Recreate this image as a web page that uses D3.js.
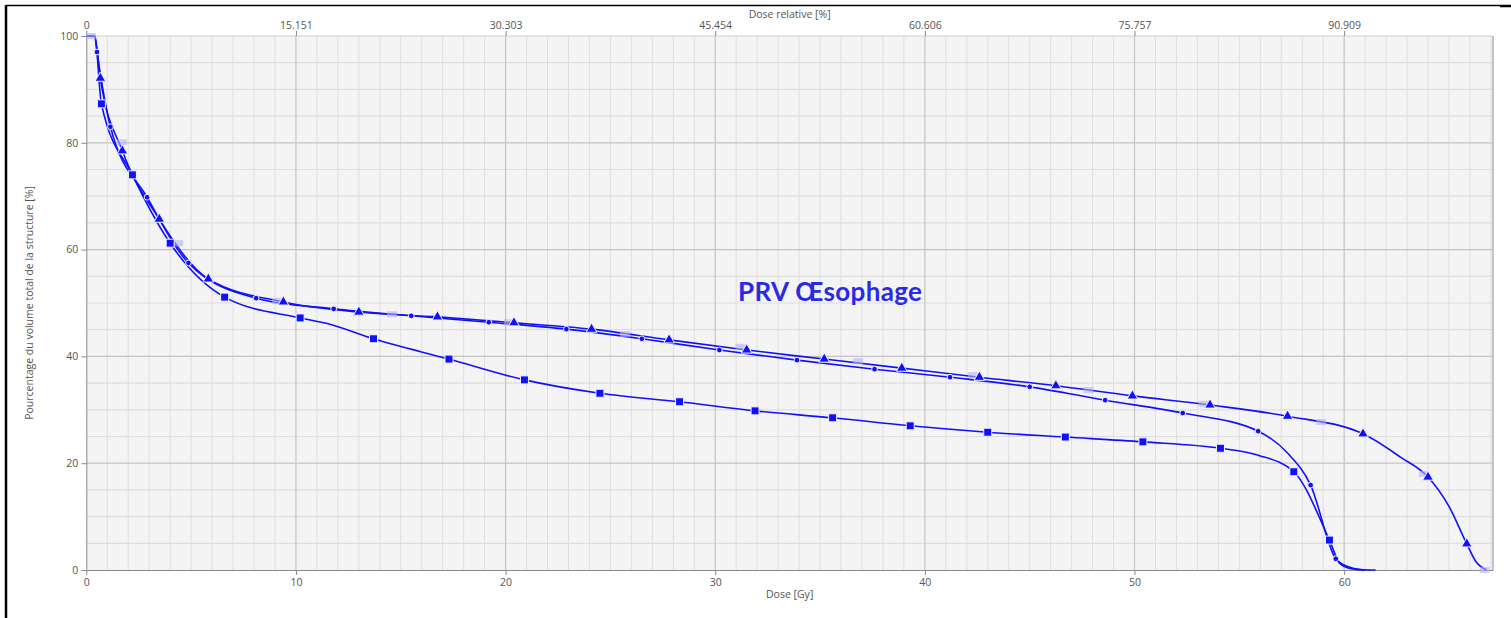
<!DOCTYPE html>
<html>
<head>
<meta charset="utf-8">
<script src="https://cdn.jsdelivr.net/npm/d3@7"></script>
<style>
  body { margin: 0; background: #fff; }
  svg { display: block; }
  .axis text { font-family: "Open Sans", sans-serif; font-size: 10.5px; fill: #555; }
  .axis path, .axis line { stroke: #8a8a8a; }
  .axis-title { font-family: "Open Sans", sans-serif; font-size: 10.5px; fill: #555; }
</style>
</head>
<body>
<svg id="chart"></svg>
<script>
// Dose axis ticks [Gy] and relative dose ticks [%]
const doseTicks = [0, 10, 20, 30, 40, 50, 60];
const relTickValues = [0, 15.1515, 30.303, 45.4545, 60.606, 75.7575, 90.909];
const relTickLabels = ['0', '15.151', '30.303', '45.454', '60.606', '75.757', '90.909'];
const volumeTicks = [0, 20, 40, 60, 80, 100];

// Series with small round markers [dose Gy, volume %]
const dotMarkers = [[0.51, 97], [1.15, 83], [2.9, 69.8], [4.87, 57.5], [8.1, 50.9], [11.8, 48.9],
  [15.5, 47.6], [19.2, 46.4], [22.9, 45.1], [26.5, 43.3], [30.2, 41.2], [33.9, 39.3], [37.6, 37.6],
  [41.2, 36.1], [45.0, 34.3], [48.6, 31.8], [52.3, 29.4], [55.9, 26.0], [58.4, 15.9], [59.6, 2.1]];
const dotShape = [[0, 100], [0.4, 100], [57.3, 21.9], [60.2, 0.6], [60.8, 0.1], [61.5, 0]];

// Series with triangle markers
const triMarkers = [[0.67, 92.1], [1.72, 78.5], [3.48, 65.7], [5.82, 54.5], [9.4, 50.2], [13.0, 48.3],
  [16.75, 47.4], [20.4, 46.3], [24.1, 45.1], [27.8, 43.1], [31.5, 41.2], [35.2, 39.5], [38.9, 37.8],
  [42.6, 36.1], [46.25, 34.5], [49.9, 32.6], [53.6, 30.9], [57.3, 28.8], [60.9, 25.5], [64.0, 17.4],
  [65.85, 4.9]];
const triShape = [[0, 100], [0.4, 100], [62.7, 21.1], [65.0, 11.9], [66.3, 1.5], [66.8, 0]];

// Series with square markers
const sqMarkers = [[0.72, 87.3], [2.2, 74.0], [4.0, 61.2], [6.6, 51.1], [10.2, 47.2], [13.7, 43.3],
  [17.3, 39.5], [20.9, 35.6], [24.5, 33.1], [28.3, 31.5], [31.9, 29.8], [35.6, 28.5], [39.3, 27.0],
  [43.0, 25.8], [46.7, 24.9], [50.4, 24.0], [54.1, 22.8], [57.6, 18.4], [59.3, 5.6]];
const sqShape = [[0, 100], [0.4, 100], [11.45, 46.2], [55.9, 21.5], [59.8, 1.2], [60.4, 0.2], [61.0, 0]];

// Faint (pale) markers sitting on the triangle curve
const ghostMarkers = [[0.22, 100], [1.7, 80.1], [4.38, 61.2], [9.1, 50.4], [14.58, 47.9], [20.17, 46.4],
  [25.7, 44.2], [31.2, 41.8], [36.8, 39.1], [42.3, 36.5], [47.8, 33.7], [53.3, 31.1], [58.9, 27.7],
  [63.8, 18.0], [66.7, 0]];

const structureLabel = 'PRV Œsophage';

const W = 1511, H = 618;
const plot = {left: 86.3, right: 1493, top: 36, bottom: 570};
const maxDose = 67.1, refDose = 66;
const blue = '#1010ff';

const svg = d3.select('#chart').attr('width', W).attr('height', H);

// Outer frame fragments
svg.append('line').attr('x1', 6).attr('x2', 1500).attr('y1', 5.5).attr('y2', 5.5)
  .attr('stroke', '#000').attr('stroke-width', 1.5);
svg.append('line').attr('x1', 1500).attr('x2', 1511).attr('y1', 6).attr('y2', 6)
  .attr('stroke', '#000').attr('stroke-width', 2.5);
svg.append('line').attr('x1', 6).attr('x2', 6).attr('y1', 5).attr('y2', H)
  .attr('stroke', '#000').attr('stroke-width', 2.5);

// Scales
const x = d3.scaleLinear().domain([0, maxDose]).range([plot.left, plot.right]);
const xRel = d3.scaleLinear().domain([0, maxDose / refDose * 100]).range([plot.left, plot.right]);
const y = d3.scaleLinear().domain([0, 100]).range([plot.bottom, plot.top]);

// Plot background
svg.append('rect')
  .attr('x', plot.left).attr('y', plot.top)
  .attr('width', plot.right - plot.left).attr('height', plot.bottom - plot.top)
  .attr('fill', '#f4f4f4');

// Grid
const grid = svg.append('g');
grid.selectAll('.vminor').data(d3.range(1, 68).filter(d => d % 10 !== 0))
  .join('line')
  .attr('x1', d => x(d)).attr('x2', d => x(d))
  .attr('y1', plot.top).attr('y2', plot.bottom)
  .attr('stroke', '#dedede').attr('stroke-width', 1);
grid.selectAll('.hminor').data(d3.range(5, 100, 5).filter(d => d % 20 !== 0))
  .join('line')
  .attr('x1', plot.left).attr('x2', plot.right)
  .attr('y1', d => y(d)).attr('y2', d => y(d))
  .attr('stroke', '#dedede').attr('stroke-width', 1.2);
grid.selectAll('.vmajor').data(doseTicks.slice(1))
  .join('line')
  .attr('x1', d => x(d)).attr('x2', d => x(d))
  .attr('y1', plot.top).attr('y2', plot.bottom)
  .attr('stroke', '#c4c4c4').attr('stroke-width', 1.2);
grid.selectAll('.hmajor').data(volumeTicks.slice(1, -1))
  .join('line')
  .attr('x1', plot.left).attr('x2', plot.right)
  .attr('y1', d => y(d)).attr('y2', d => y(d))
  .attr('stroke', '#c4c4c4').attr('stroke-width', 1.2);

// Top and right borders
svg.append('line').attr('x1', plot.left).attr('x2', plot.right).attr('y1', plot.top).attr('y2', plot.top)
  .attr('stroke', '#cfcfcf').attr('stroke-width', 1.2);
svg.append('line').attr('x1', plot.right).attr('x2', plot.right).attr('y1', plot.top).attr('y2', plot.bottom)
  .attr('stroke', '#c4c4c4').attr('stroke-width', 2);

// Axes
svg.append('g').attr('class', 'axis')
  .attr('transform', `translate(0,${plot.bottom})`)
  .call(d3.axisBottom(x).tickValues(doseTicks).tickSize(5).tickPadding(4).tickSizeOuter(0));
svg.append('g').attr('class', 'axis')
  .attr('transform', `translate(${plot.left},0)`)
  .call(d3.axisLeft(y).tickValues(volumeTicks).tickSize(5).tickPadding(3).tickSizeOuter(0));
const topAxis = svg.append('g').attr('class', 'axis')
  .attr('transform', `translate(0,${plot.top})`)
  .call(d3.axisTop(xRel).tickValues(relTickValues).tickSize(5).tickPadding(2)
    .tickFormat((d, i) => relTickLabels[i]).tickSizeOuter(0));
topAxis.select('.domain').remove();

// Axis titles
svg.append('text').attr('class', 'axis-title')
  .attr('x', (plot.left + plot.right) / 2).attr('y', 598)
  .attr('text-anchor', 'middle').text('Dose [Gy]');
svg.append('text').attr('class', 'axis-title')
  .attr('x', (plot.left + plot.right) / 2).attr('y', 18)
  .attr('text-anchor', 'middle').text('Dose relative [%]');
svg.append('text').attr('class', 'axis-title')
  .attr('transform', `translate(33,${(plot.top + plot.bottom) / 2}) rotate(-90)`)
  .attr('text-anchor', 'middle').text('Pourcentage du volume total de la structure [%]');

// Curves
const line = d3.line()
  .x(d => x(d[0])).y(d => y(d[1]))
  .curve(d3.curveMonotoneX);
const byDose = (a, b) => a[0] - b[0];
const series = [
  {markers: sqMarkers, shape: sqShape, symbol: d3.symbolSquare, size: 64},
  {markers: dotMarkers, shape: dotShape, symbol: d3.symbolCircle, size: 26},
  {markers: triMarkers, shape: triShape, symbol: d3.symbolTriangle, size: 50}
];

const curves = svg.append('g');
series.forEach(s => {
  curves.append('path')
    .datum(s.markers.concat(s.shape).sort(byDose))
    .attr('fill', 'none')
    .attr('stroke', blue)
    .attr('stroke-width', 1.6)
    .attr('d', line);
});

// Pale markers
curves.selectAll('.ghost').data(ghostMarkers)
  .join('rect')
  .attr('class', 'ghost')
  .attr('x', d => x(d[0]) - 5).attr('y', d => y(d[1]) - 3)
  .attr('width', 10).attr('height', 6)
  .attr('fill', '#b4b4f4').attr('opacity', 0.6);

series.forEach(s => {
  curves.append('g').selectAll('path')
    .data(s.markers)
    .join('path')
    .attr('transform', d => `translate(${x(d[0])},${y(d[1])})`)
    .attr('d', d3.symbol().type(s.symbol).size(s.size))
    .attr('fill', blue)
    .attr('stroke', '#f4f4f4')
    .attr('stroke-width', 1);
});

// Structure label
svg.append('text')
  .attr('x', 738).attr('y', 301)
  .attr('font-family', 'Lato, sans-serif')
  .attr('font-weight', 'bold')
  .attr('font-size', 26)
  .attr('fill', '#2a2ae6')
  .attr('textLength', 184)
  .text(structureLabel);
</script>
</body>
</html>
